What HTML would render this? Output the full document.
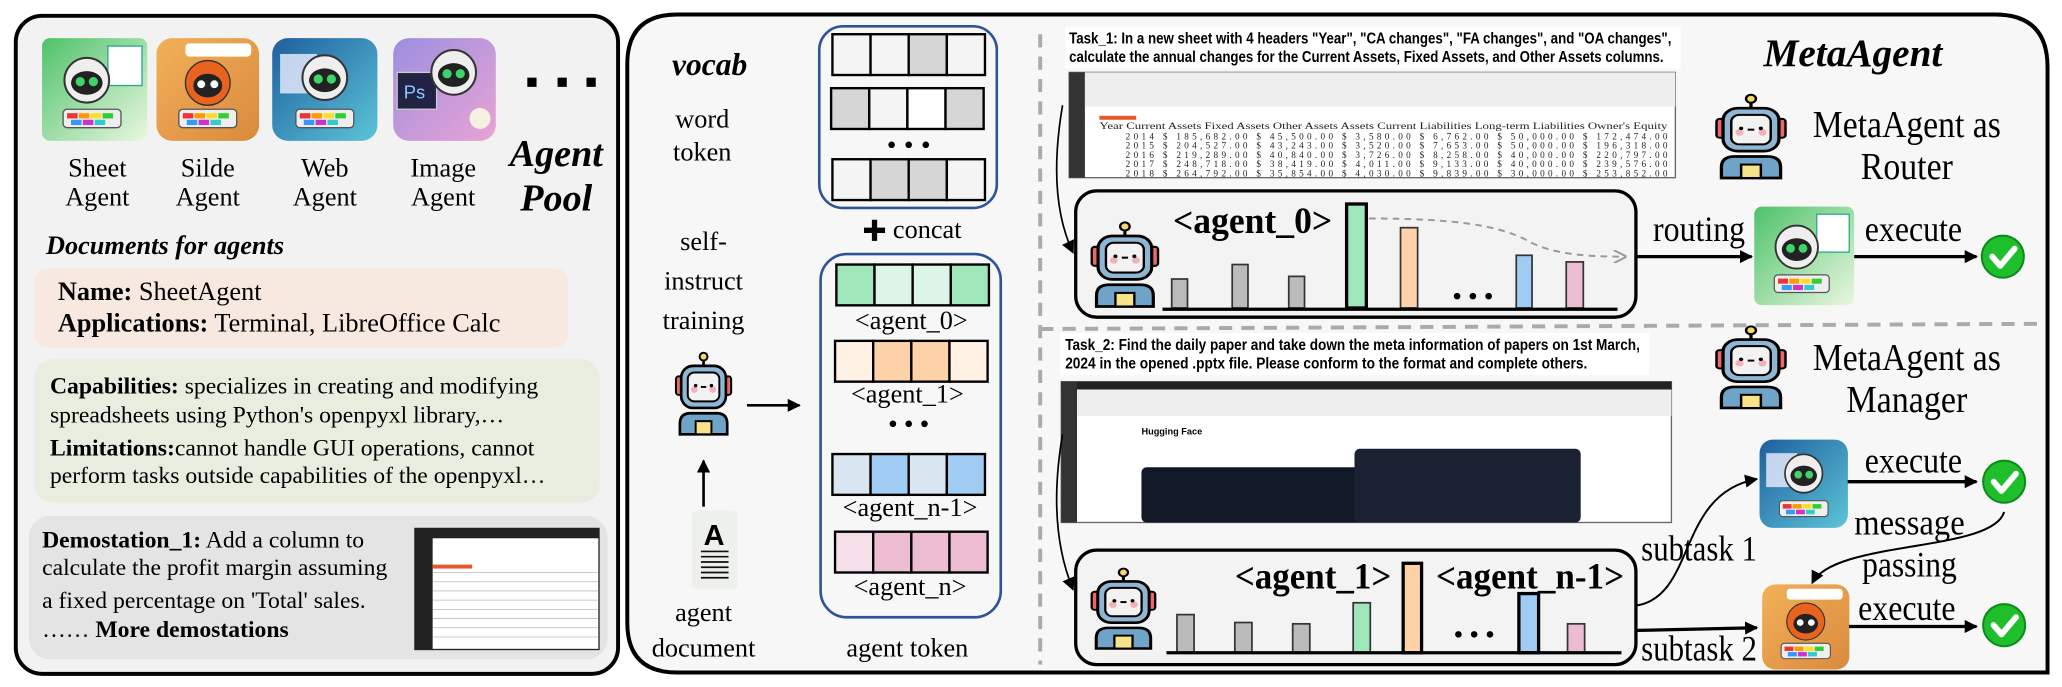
<!DOCTYPE html>
<html><head><meta charset="utf-8"><style>
html,body{margin:0;padding:0;background:#fff}
svg{display:block}
text{font-family:"Liberation Serif",serif}
.n{font-family:"Liberation Sans Narrow","Liberation Sans",sans-serif}
</style></head><body>
<svg width="2062" height="687" viewBox="0 0 1568 522" preserveAspectRatio="none" xmlns="http://www.w3.org/2000/svg">
<defs>
<marker id="ah" markerWidth="10" markerHeight="10" refX="9" refY="5" orient="auto" markerUnits="userSpaceOnUse"><path d="M0,0 L10,5 L0,10 Z" fill="#000"/></marker>
<marker id="ahg" markerWidth="10" markerHeight="10" refX="9" refY="5" orient="auto" markerUnits="userSpaceOnUse"><path d="M0,0 L10,5 L0,10" fill="none" stroke="#999" stroke-width="1.5"/></marker>
<g id="robot">
<line x1="22" y1="2" x2="22" y2="10" stroke="#000" stroke-width="2"/>
<circle cx="22" cy="3" r="3" fill="#f6d76b" stroke="#000" stroke-width="1.5"/>
<rect x="1" y="18" width="6" height="14" rx="2" fill="#e66" stroke="#000" stroke-width="1.5"/>
<rect x="37" y="18" width="6" height="14" rx="2" fill="#e66" stroke="#000" stroke-width="1.5"/>
<rect x="5" y="10" width="34" height="32" rx="9" fill="#8fb6d3" stroke="#000" stroke-width="2"/>
<rect x="10" y="15" width="24" height="22" rx="5" fill="#f2f2f2" stroke="#000" stroke-width="1.5"/>
<circle cx="15" cy="28" r="2.5" fill="#f4b0b8"/><circle cx="29" cy="28" r="2.5" fill="#f4b0b8"/>
<circle cx="16" cy="25" r="1.3"/><circle cx="28" cy="25" r="1.3"/><line x1="20" y1="26" x2="24" y2="26" stroke="#000" stroke-width="1.5"/>
<path d="M4,62 V54 Q4,46 12,46 H32 Q40,46 40,54 V62 Z" fill="#6fa3c8" stroke="#000" stroke-width="2"/>
<rect x="16" y="52" width="12" height="10" fill="#f8e38a" stroke="#000" stroke-width="1.5"/>
</g>
<g id="check"><circle cx="0" cy="0" r="16" fill="#1fbf2c" stroke="#0a8a1a" stroke-width="1.5"/><path d="M-8,0 L-2,7 L9,-6" fill="none" stroke="#fff" stroke-width="4.5" stroke-linecap="round" stroke-linejoin="round"/></g>
<linearGradient id="gs" x1="0" y1="0" x2="1" y2="1"><stop offset="0" stop-color="#4fc26a"/><stop offset="1" stop-color="#e9f7e0"/></linearGradient>
<linearGradient id="gp" x1="0" y1="0" x2="1" y2="1"><stop offset="0" stop-color="#f2b05a"/><stop offset="1" stop-color="#d98a3c"/></linearGradient>
<linearGradient id="gw" x1="0" y1="0" x2="1" y2="1"><stop offset="0" stop-color="#1e5f9e"/><stop offset="1" stop-color="#5cc4d8"/></linearGradient>
<linearGradient id="gi" x1="0" y1="0" x2="1" y2="1"><stop offset="0" stop-color="#9c8fe0"/><stop offset="1" stop-color="#e9a3d4"/></linearGradient>
<g id="face"><circle cx="0" cy="0" r="17" fill="#eee" stroke="#333" stroke-width="1.5"/><ellipse cx="0" cy="2" rx="12" ry="9" fill="#222"/><circle cx="-5" cy="1" r="3.5" fill="#3fd46a"/><circle cx="5" cy="1" r="3.5" fill="#3fd46a"/></g>
<g id="keys"><rect x="-22" y="0" width="44" height="14" rx="3" fill="#eee" stroke="#555"/><rect x="-19" y="3" width="8" height="4" fill="#e33"/><rect x="-10" y="3" width="8" height="4" fill="#f90"/><rect x="-1" y="3" width="8" height="4" fill="#fd2"/><rect x="8" y="3" width="8" height="4" fill="#3c3"/><rect x="-16" y="8" width="8" height="4" fill="#39f"/><rect x="-7" y="8" width="8" height="4" fill="#c3c"/><rect x="2" y="8" width="8" height="4" fill="#3cc"/></g>
<g id="sheeticon"><rect x="0" y="0" width="80" height="78" rx="6" fill="url(#gs)"/><rect x="50" y="6" width="26" height="30" fill="#fff" stroke="#2a8"/><use href="#face" x="34" y="32"/><use href="#keys" x="38" y="54"/></g>
<g id="ppticon"><rect x="0" y="0" width="78" height="78" rx="12" fill="url(#gp)"/><rect x="22" y="4" width="50" height="10" rx="3" fill="#fff"/><circle cx="39" cy="34" r="17" fill="#e9621e" stroke="#333"/><ellipse cx="39" cy="36" rx="11" ry="9" fill="#222"/><circle cx="34" cy="35" r="3" fill="#fff"/><circle cx="44" cy="35" r="3" fill="#fff"/><use href="#keys" x="39" y="54"/></g>
<g id="webicon"><rect x="0" y="0" width="80" height="78" rx="12" fill="url(#gw)"/><rect x="6" y="12" width="28" height="30" fill="#eef" opacity=".8"/><use href="#face" x="40" y="30"/><use href="#keys" x="40" y="54"/></g>
</defs>

<!-- LEFT PANEL -->
<rect x="12" y="12" width="458" height="500" rx="20" fill="#f2f2f2" stroke="#000" stroke-width="3"/>
<use href="#sheeticon" x="32" y="29"/>
<use href="#ppticon" x="119" y="29"/>
<use href="#webicon" x="207" y="29"/>
<g><rect x="299" y="29" width="78" height="78" rx="12" fill="url(#gi)"/><rect x="302" y="55" width="30" height="28" fill="#224" stroke="#ccc"/><text x="307" y="75" font-size="14" fill="#8cf" style="font-family:'Liberation Sans'">Ps</text><use href="#face" x="345" y="55"/><circle cx="365" cy="90" r="8" fill="#f6f0e0"/></g>
<rect x="401" y="59" width="7" height="7"/><rect x="424" y="59" width="7" height="7"/><rect x="446" y="59" width="7" height="7"/>
<g font-size="20" text-anchor="middle">
<text x="74" y="134">Sheet</text><text x="74" y="156">Agent</text>
<text x="158" y="134">Silde</text><text x="158" y="156">Agent</text>
<text x="247" y="134">Web</text><text x="247" y="156">Agent</text>
<text x="337" y="134">Image</text><text x="337" y="156">Agent</text>
</g>
<text x="423" y="126" font-size="29" font-weight="bold" font-style="italic" text-anchor="middle">Agent</text>
<text x="423" y="160" font-size="29" font-weight="bold" font-style="italic" text-anchor="middle">Pool</text>
<text x="35" y="193" font-size="20" font-weight="bold" font-style="italic">Documents for agents</text>
<rect x="26" y="204" width="406" height="60" rx="10" fill="#f7e9df"/>
<text x="44" y="228" font-size="20"><tspan font-weight="bold">Name:</tspan> SheetAgent</text>
<text x="44" y="252" font-size="20"><tspan font-weight="bold">Applications:</tspan> Terminal, LibreOffice Calc</text>
<rect x="26" y="273" width="430" height="109" rx="14" fill="#e8ede0"/>
<g font-size="18"><text x="38" y="299"><tspan font-weight="bold">Capabilities:</tspan> specializes in creating and modifying</text>
<text x="38" y="321">spreadsheets using Python's openpyxl library,…</text>
<text x="38" y="346"><tspan font-weight="bold">Limitations:</tspan>cannot handle GUI operations, cannot</text>
<text x="38" y="367">perform tasks outside capabilities of the openpyxl…</text></g>
<rect x="22" y="392" width="440" height="109" rx="16" fill="#e4e4e4"/>
<g font-size="18"><text x="32" y="416"><tspan font-weight="bold">Demostation_1:</tspan> Add a column to</text>
<text x="32" y="437">calculate the profit margin assuming</text>
<text x="32" y="462">a fixed percentage on 'Total' sales.</text>
<text x="32" y="484">…… <tspan font-weight="bold">More demostations</tspan></text></g>
<rect x="315" y="401" width="141" height="93" fill="#222"/><rect x="329" y="409" width="126" height="84" fill="#fff"/><rect x="329" y="429" width="30" height="3" fill="#e8572a"/>
<g stroke="#bbb" stroke-width=".6"><line x1="329" y1="435" x2="455" y2="435"/><line x1="329" y1="442" x2="455" y2="442"/><line x1="329" y1="449" x2="455" y2="449"/><line x1="329" y1="456" x2="455" y2="456"/><line x1="329" y1="463" x2="455" y2="463"/><line x1="329" y1="470" x2="455" y2="470"/><line x1="329" y1="477" x2="455" y2="477"/><line x1="329" y1="484" x2="455" y2="484"/></g>

<!-- RIGHT BIG PANEL -->
<path d="M515,11 H1517 Q1557,11 1557,51 V511 H515 Q477,511 477,473 V49 Q477,11 515,11 Z" fill="#f7f7f8" stroke="#000" stroke-width="3"/>
<text x="511" y="57" font-size="24" font-weight="bold" font-style="italic">vocab</text>
<text x="534" y="97" font-size="20" text-anchor="middle">word</text>
<text x="534" y="122" font-size="20" text-anchor="middle">token</text>
<text x="535" y="190" font-size="20" text-anchor="middle">self-</text>
<text x="535" y="220" font-size="20" text-anchor="middle">instruct</text>
<text x="535" y="250" font-size="20" text-anchor="middle">training</text>
<rect x="623" y="20" width="135" height="138" rx="18" fill="none" stroke="#2f5496" stroke-width="2"/>
<g stroke="#000" stroke-width="1.8">
<rect x="633" y="26" width="29" height="31" fill="#f4f4f4"/><rect x="662" y="26" width="29" height="31" fill="#f4f4f4"/><rect x="691" y="26" width="29" height="31" fill="#d6d6d6"/><rect x="720" y="26" width="29" height="31" fill="#f4f4f4"/>
<rect x="632" y="67" width="29" height="31" fill="#d6d6d6"/><rect x="661" y="67" width="29" height="31" fill="#f4f4f4"/><rect x="690" y="67" width="29" height="31" fill="#fff"/><rect x="719" y="67" width="29" height="31" fill="#d6d6d6"/>
<rect x="633" y="121" width="29" height="31" fill="#f4f4f4"/><rect x="662" y="121" width="29" height="31" fill="#d6d6d6"/><rect x="691" y="121" width="29" height="31" fill="#d6d6d6"/><rect x="720" y="121" width="29" height="31" fill="#f4f4f4"/>
</g>
<circle cx="678" cy="110" r="2.5"/><circle cx="691" cy="110" r="2.5"/><circle cx="704" cy="110" r="2.5"/>
<path d="M657,175 H673 M665,167 V183" stroke="#000" stroke-width="4"/>
<text x="679" y="181" font-size="20">concat</text>
<rect x="624" y="193" width="137" height="276" rx="20" fill="none" stroke="#2f5496" stroke-width="2"/>
<g stroke="#000" stroke-width="1.8">
<rect x="636" y="201" width="29" height="31" fill="#9fe6bb"/><rect x="665" y="201" width="29" height="31" fill="#dcf5e6"/><rect x="694" y="201" width="29" height="31" fill="#dcf5e6"/><rect x="723" y="201" width="29" height="31" fill="#9fe6bb"/>
<rect x="635" y="259" width="29" height="31" fill="#fff1e4"/><rect x="664" y="259" width="29" height="31" fill="#fdd2a8"/><rect x="693" y="259" width="29" height="31" fill="#fdd2a8"/><rect x="722" y="259" width="29" height="31" fill="#fff1e4"/>
<rect x="633" y="345" width="29" height="31" fill="#d9e6f2"/><rect x="662" y="345" width="29" height="31" fill="#a0cbf2"/><rect x="691" y="345" width="29" height="31" fill="#d9e6f2"/><rect x="720" y="345" width="29" height="31" fill="#a0cbf2"/>
<rect x="635" y="404" width="29" height="31" fill="#f5e0ea"/><rect x="664" y="404" width="29" height="31" fill="#ebbcd2"/><rect x="693" y="404" width="29" height="31" fill="#ebbcd2"/><rect x="722" y="404" width="29" height="31" fill="#ebbcd2"/>
</g>
<g font-size="20" text-anchor="middle"><text x="693" y="250">&lt;agent_0&gt;</text><text x="690" y="306">&lt;agent_1&gt;</text><text x="692" y="392">&lt;agent_n-1&gt;</text><text x="692" y="452">&lt;agent_n&gt;</text><text x="690" y="499">agent token</text>
<text x="535" y="472">agent</text><text x="535" y="499">document</text></g>
<circle cx="679" cy="322" r="2.5"/><circle cx="691" cy="322" r="2.5"/><circle cx="703" cy="322" r="2.5"/>
<use href="#robot" x="513" y="268"/>
<line x1="568" y1="308" x2="608" y2="308" stroke="#000" stroke-width="2" marker-end="url(#ah)"/>
<line x1="535" y1="385" x2="535" y2="350" stroke="#000" stroke-width="2" marker-end="url(#ah)"/>
<rect x="526" y="388" width="35" height="60" rx="4" fill="#eef0ec"/>
<text x="543" y="414" font-size="22" font-weight="bold" text-anchor="middle" style="font-family:'Liberation Sans'">A</text>
<g stroke="#111" stroke-width="1.3"><line x1="533" y1="419" x2="554" y2="419"/><line x1="533" y1="423" x2="554" y2="423"/><line x1="533" y1="427" x2="554" y2="427"/><line x1="533" y1="431" x2="554" y2="431"/><line x1="533" y1="435" x2="554" y2="435"/><line x1="533" y1="439" x2="554" y2="439"/></g>

<!-- dashed separators -->
<line x1="791" y1="26" x2="791" y2="505" stroke="#aaa" stroke-width="3" stroke-dasharray="10,7"/>
<path d="M791,250 L1555,246" stroke="#aaa" stroke-width="3" stroke-dasharray="10,7" fill="none"/>

<!-- Task 1 -->
<rect x="810" y="20" width="468" height="32" fill="#fff"/>
<text class="n" x="813" y="33" font-size="12" font-weight="bold" textLength="458" lengthAdjust="spacingAndGlyphs">Task_1: In a new sheet with 4 headers "Year", "CA changes", "FA changes", and "OA changes",</text>
<text class="n" x="813" y="47" font-size="12" font-weight="bold" textLength="452" lengthAdjust="spacingAndGlyphs">calculate the annual changes for the Current Assets, Fixed Assets, and Other Assets columns.</text>
<rect x="813" y="55" width="461" height="80" fill="#fff" stroke="#666"/>
<rect x="813" y="55" width="12" height="80" fill="#333"/>
<rect x="825" y="55" width="449" height="26" fill="#eee"/>
<rect x="836" y="88" width="28" height="3" fill="#e8572a"/>
<g class="n" font-size="7" fill="#222">
<text x="836" y="98" textLength="432" lengthAdjust="spacingAndGlyphs">Year     Current Assets    Fixed Assets   Other Assets     Assets   Current Liabilities Long-term Liabilities   Owner's Equity</text>
<text x="856" y="106" textLength="412" lengthAdjust="spacing">2014 $   185,682.00 $   45,500.00 $     3,580.00             $    6,762.00 $        50,000.00 $   172,474.00</text>
<text x="856" y="113" textLength="412" lengthAdjust="spacing">2015 $   204,527.00 $   43,243.00 $     3,520.00             $    7,653.00 $        50,000.00 $   196,318.00</text>
<text x="856" y="120" textLength="412" lengthAdjust="spacing">2016 $   219,289.00 $   40,840.00 $     3,726.00             $    8,258.00 $        40,000.00 $   220,797.00</text>
<text x="856" y="127" textLength="412" lengthAdjust="spacing">2017 $   248,718.00 $   38,419.00 $     4,011.00             $    9,133.00 $        40,000.00 $   239,576.00</text>
<text x="856" y="134" textLength="412" lengthAdjust="spacing">2018 $   264,792.00 $   35,854.00 $     4,030.00             $    9,839.00 $        30,000.00 $   253,852.00</text>
</g>
<text x="1409" y="50" font-size="30" font-weight="bold" font-style="italic" text-anchor="middle" textLength="136" lengthAdjust="spacingAndGlyphs">MetaAgent</text>
<use href="#robot" x="0" y="0" transform="translate(1304 72) scale(1.25 1.02)"/>
<text x="1450" y="104" font-size="29" text-anchor="middle" textLength="143" lengthAdjust="spacingAndGlyphs">MetaAgent as</text>
<text x="1450" y="136" font-size="29" text-anchor="middle" textLength="70" lengthAdjust="spacingAndGlyphs">Router</text>

<!-- Box 1 -->
<path d="M808,80 Q796,150 816,192" fill="none" stroke="#000" stroke-width="1.3" marker-end="url(#ah)"/>
<rect x="818" y="145" width="426" height="96" rx="16" fill="#f3f3f3" stroke="#000" stroke-width="2.5"/>
<use href="#robot" x="0" y="0" transform="translate(829 169) scale(1.2 1.03)"/>
<text x="892" y="177" font-size="28" font-weight="bold" textLength="121" lengthAdjust="spacingAndGlyphs">&lt;agent_0&gt;</text>
<g stroke="#333" stroke-width="1.3">
<rect x="891" y="212" width="12" height="22" fill="#bbb"/><rect x="937" y="201" width="12" height="33" fill="#bbb"/><rect x="980" y="210" width="12" height="24" fill="#bbb"/>
<rect x="1024" y="155" width="15" height="79" fill="#9fe6bb" stroke="#000" stroke-width="2.5"/><rect x="1065" y="173" width="13" height="61" fill="#fdd2a8"/>
<rect x="1153" y="194" width="12" height="40" fill="#a0cbf2"/><rect x="1191" y="199" width="13" height="35" fill="#ebbcd2"/>
</g>
<line x1="884" y1="235" x2="1230" y2="235" stroke="#000" stroke-width="2.5"/>
<circle cx="1108" cy="225" r="2.5"/><circle cx="1120" cy="225" r="2.5"/><circle cx="1132" cy="225" r="2.5"/>
<path d="M1041,166 C1110,166 1140,172 1160,182 C1180,194 1210,195 1236,195" fill="none" stroke="#999" stroke-width="1.5" stroke-dasharray="5,4" marker-end="url(#ahg)"/>
<line x1="1245" y1="195" x2="1332" y2="195" stroke="#000" stroke-width="2.5" marker-end="url(#ah)"/>
<text x="1257" y="183" font-size="27" textLength="70" lengthAdjust="spacingAndGlyphs">routing</text>
<use href="#sheeticon" x="0" y="0" transform="translate(1334 157) scale(0.95 0.96)"/>
<line x1="1410" y1="195" x2="1503" y2="195" stroke="#000" stroke-width="2.5" marker-end="url(#ah)"/>
<text x="1418" y="183" font-size="27" textLength="74" lengthAdjust="spacingAndGlyphs">execute</text>
<use href="#check" x="1523" y="195"/>

<!-- Task 2 -->
<rect x="806" y="253" width="448" height="32" fill="#fff"/>
<text class="n" x="810" y="266" font-size="12" font-weight="bold" textLength="437" lengthAdjust="spacingAndGlyphs">Task_2: Find the daily paper and take down the meta information of papers on 1st March,</text>
<text class="n" x="810" y="280" font-size="12" font-weight="bold" textLength="397" lengthAdjust="spacingAndGlyphs">2024 in the opened .pptx file. Please conform to the format and complete others.</text>
<rect x="807" y="290" width="464" height="107" fill="#fff" stroke="#666"/>
<rect x="807" y="290" width="464" height="6" fill="#222"/>
<rect x="807" y="290" width="12" height="107" fill="#333"/>
<rect x="819" y="296" width="452" height="20" fill="#eee"/>
<rect x="868" y="355" width="250" height="42" rx="4" fill="#111827"/>
<rect x="1030" y="341" width="172" height="56" rx="4" fill="#1a2133"/>
<text class="n" x="868" y="330" font-size="7" font-weight="bold">Hugging Face</text>
<use href="#robot" x="0" y="0" transform="translate(1304 248) scale(1.25 1.0)"/>
<text x="1450" y="281" font-size="29" text-anchor="middle" textLength="143" lengthAdjust="spacingAndGlyphs">MetaAgent as</text>
<text x="1450" y="313" font-size="29" text-anchor="middle" textLength="92" lengthAdjust="spacingAndGlyphs">Manager</text>

<!-- Box 2 -->
<path d="M808,330 Q796,400 816,448" fill="none" stroke="#000" stroke-width="1.3" marker-end="url(#ah)"/>
<rect x="818" y="418" width="426" height="87" rx="16" fill="#f3f3f3" stroke="#000" stroke-width="2.5"/>
<use href="#robot" x="0" y="0" transform="translate(829 432) scale(1.15 0.98)"/>
<text x="939" y="447" font-size="28" font-weight="bold" textLength="119" lengthAdjust="spacingAndGlyphs">&lt;agent_1&gt;</text>
<text x="1092" y="447" font-size="28" font-weight="bold" textLength="143" lengthAdjust="spacingAndGlyphs">&lt;agent_n-1&gt;</text>
<g stroke="#333" stroke-width="1.3">
<rect x="895" y="467" width="13" height="29" fill="#bbb"/><rect x="939" y="473" width="13" height="23" fill="#bbb"/><rect x="983" y="474" width="13" height="22" fill="#bbb"/>
<rect x="1029" y="458" width="13" height="38" fill="#9fe6bb"/>
<rect x="1067" y="428" width="14" height="68" fill="#fdd2a8" stroke="#000" stroke-width="2.5"/>
<rect x="1155" y="451" width="15" height="45" fill="#a0cbf2" stroke="#000" stroke-width="2.5"/>
<rect x="1192" y="474" width="13" height="22" fill="#ebbcd2"/>
</g>
<line x1="887" y1="496" x2="1233" y2="496" stroke="#000" stroke-width="2.5"/>
<circle cx="1109" cy="482" r="2.5"/><circle cx="1121" cy="482" r="2.5"/><circle cx="1133" cy="482" r="2.5"/>
<path d="M1245,460 C1290,452 1275,375 1336,364" fill="none" stroke="#000" stroke-width="1.5" marker-end="url(#ah)"/>
<text x="1248" y="426" font-size="27" textLength="88" lengthAdjust="spacingAndGlyphs">subtask 1</text>
<line x1="1245" y1="479" x2="1336" y2="477" stroke="#000" stroke-width="2.5" marker-end="url(#ah)"/>
<text x="1248" y="502" font-size="27" textLength="88" lengthAdjust="spacingAndGlyphs">subtask 2</text>
<use href="#webicon" x="0" y="0" transform="translate(1338 334) scale(0.84 0.86)"/>
<line x1="1405" y1="366" x2="1503" y2="366" stroke="#000" stroke-width="2.5" marker-end="url(#ah)"/>
<text x="1418" y="359" font-size="27" textLength="74" lengthAdjust="spacingAndGlyphs">execute</text>
<use href="#check" x="1524" y="366"/>
<path d="M1524,389 C1515,420 1395,410 1378,443" fill="none" stroke="#000" stroke-width="1.5" marker-end="url(#ah)"/>
<text x="1452" y="406" font-size="27" text-anchor="middle" textLength="84" lengthAdjust="spacingAndGlyphs">message</text>
<text x="1452" y="438" font-size="27" text-anchor="middle" textLength="72" lengthAdjust="spacingAndGlyphs">passing</text>
<use href="#ppticon" x="0" y="0" transform="translate(1340 444) scale(0.85 0.83)"/>
<line x1="1406" y1="476" x2="1503" y2="476" stroke="#000" stroke-width="2.5" marker-end="url(#ah)"/>
<text x="1413" y="471" font-size="27" textLength="74" lengthAdjust="spacingAndGlyphs">execute</text>
<use href="#check" x="1524" y="475"/>
</svg>
</body></html>
